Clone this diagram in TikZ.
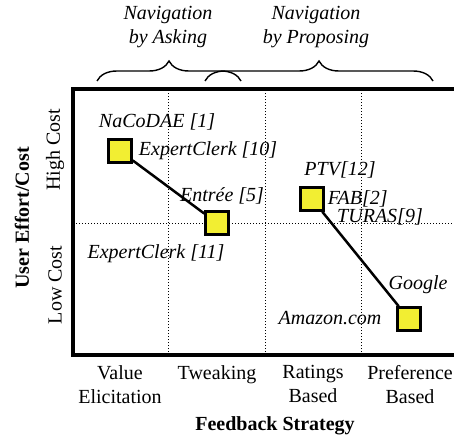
\documentclass[tikz,border=0pt]{standalone}
\definecolor{marker}{RGB}{242, 238, 50}
\usepackage{fontspec}
\setmainfont{Liberation Serif}
\usepackage{tikz}
\usetikzlibrary{positioning, calc, decorations.pathreplacing}

\tikzset{
  every node/.style={font=\fontsize{20}{24}\selectfont},
  system/.style={draw, line width=2.5pt, fill=marker, minimum size=23pt, inner sep=0pt},
  sysname/.style={font=\fontsize{20}{24}\selectfont\itshape, inner sep=1pt},
  strategy/.style={align=center, anchor=north, inner sep=0pt},
  grid line/.style={dotted, line width=1pt},
  group brace/.style={decorate, decoration={brace, amplitude=20pt}, line width=1.4pt}
}

\begin{document}
\begin{tikzpicture}[x=1pt, y=1pt]
  \useasboundingbox (0,0) rectangle (454,440);

  % quadrant grid
  \coordinate (tl) at (73,351);
  \coordinate (bl) at (73,85);
  \draw[grid line] (73,217) -- (454,217);
  \foreach \x in {168, 265, 361}
    \draw[grid line] (\x,85) -- (\x,351);
  \draw[line width=4pt] (454,351) -- (tl) -- (bl) -- (454,85);

  % systems
  \node[system] (nacodae) at (120,289) {};
  \node[system] (entree)  at (217,217) {};
  \node[system] (ptv)     at (312,241) {};
  \node[system] (amazon)  at (409,121) {};
  \draw[line width=2.5pt] (nacodae) -- (entree);
  \draw[line width=2.5pt] (ptv) -- (amazon);

  \node[sysname] at (157,318) {NaCoDAE [1]};
  \node[sysname, right=5pt of nacodae] {ExpertClerk [10]};
  \node[sysname] at (222,244) {Entrée [5]};
  \node[sysname] at (156,186) {ExpertClerk [11]};
  \node[sysname] at (340,270) {PTV[12]};
  \node[sysname, right=2pt of ptv] {FAB[2]};
  \node[sysname] at (380,223) {TURAS[9]};
  \node[sysname] at (418,155) {Google};
  \node[sysname] at (330,122) {Amazon.com};

  % navigation groups
  \draw[group brace] (97,359) -- (241,359);
  \draw[group brace] (205,359) -- (433,359);
  \node[sysname, align=center] at (168,413) {Navigation\\by Asking};
  \node[sysname, align=center] at (316,413) {Navigation\\by Proposing};

  % axes
  \node[strategy] at (120,75) {Value\\Elicitation};
  \node[strategy] at (217,75) {Tweaking};
  \node[strategy] at (313,75) {Ratings\\Based};
  \node[strategy] at (410,75) {Preference\\Based};
  \node[font=\fontsize{20}{24}\selectfont\bfseries] at (275,14) {Feedback Strategy};
  \node[rotate=90] at (55,290) {High Cost};
  \node[rotate=90] at (55,155) {Low Cost};
  \node[rotate=90, font=\fontsize{20}{24}\selectfont\bfseries] at (22,222) {User Effort/Cost};
\end{tikzpicture}
\end{document}
